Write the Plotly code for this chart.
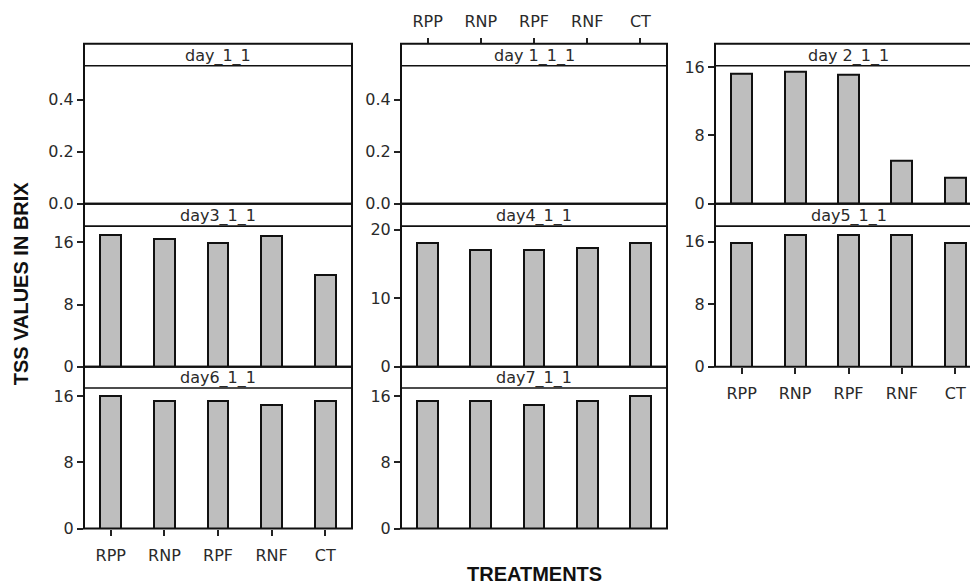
import plotly.graph_objects as go

# ---------------- data ----------------
treatments = ["RPP", "RNP", "RPF", "RNF", "CT"]
panel_labels = ["day_1_1", "day 1_1_1", "day 2_1_1",
                "day3_1_1", "day4_1_1", "day5_1_1",
                "day6_1_1", "day7_1_1"]
day_1_1 = []
day_1_1_1 = []
day_2_1_1 = [15.2, 15.4, 15.1, 5.1, 3.0]
day_3_1_1 = [17.0, 16.4, 15.9, 16.8, 11.8]
day_4_1_1 = [18.0, 17.0, 17.0, 17.3, 18.0]
day_5_1_1 = [15.85, 16.9, 16.9, 16.9, 15.85]
day_6_1_1 = [16.0, 15.45, 15.45, 15.0, 15.45]
day_7_1_1 = [15.45, 15.45, 15.0, 15.45, 16.0]
panel_values = [day_1_1, day_1_1_1, day_2_1_1, day_3_1_1, day_4_1_1,
                day_5_1_1, day_6_1_1, day_7_1_1]

ticks_empty = [0.0, 0.2, 0.4]
ticks_16 = [0, 8, 16]
ticks_20 = [0, 10, 20]
panel_ticks = [ticks_empty, ticks_empty, ticks_16, ticks_16, ticks_20,
               ticks_16, ticks_16, ticks_16]
panel_ymax = [0.531, 0.531, 16.15, 18.1, 20.5, 18.0, 17.0, 17.0]

y_title = "TSS VALUES IN BRIX"
x_title = "TREATMENTS"

# ---------------- layout geometry (pixels) ----------------
W, H = 970, 587
cols = [(84, 352), (401, 667), (715, 982)]
# (strip top, strip bottom, plot bottom)
rows = [(37, 59.5, 202), (202, 225, 370), (370, 392, 537)]
grid = [(0, 0), (0, 1), (0, 2), (1, 0), (1, 1), (1, 2), (2, 0), (2, 1)]
# x-axis label placement: panel index -> 'bottom' / 'top'
xlab = {6: "bottom", 1: "top", 5: "bottom"}

TICKFONT = dict(family="DejaVu Sans", size=16, color="#2a2a2a")
BAR_FILL = "#BEBEBE"
EDGE = "#111111"


def px_x(v):
    return v / W


def px_y(v):
    return 1 - v / H


fig = go.Figure()
shapes = []
annotations = []

for i, (label, vals) in enumerate(zip(panel_labels, panel_values)):
    r, c = grid[i]
    x0, x1 = cols[c]
    st, sb, pb = rows[r]
    n = i + 1
    xa = "x" if n == 1 else f"x{n}"
    ya = "y" if n == 1 else f"y{n}"

    fig.add_trace(go.Bar(
        x=treatments[:len(vals)], y=vals,
        xaxis=xa, yaxis=ya, width=0.39,
        marker=dict(color=BAR_FILL, line=dict(color=EDGE, width=2)),
        showlegend=False, hoverinfo="x+y",
    ))

    full_w = x1 - x0
    vis_x1 = min(x1, W)
    xmax = -0.5 + (vis_x1 - x0) / full_w * len(treatments)

    xaxis = dict(
        domain=[px_x(x0), px_x(vis_x1)],
        type="category", categoryorder="array", categoryarray=treatments,
        range=[-0.5, xmax],
        showgrid=False, zeroline=False, showline=False,
        tickfont=TICKFONT, fixedrange=True,
    )
    side = xlab.get(i)
    if side is None:
        xaxis.update(showticklabels=False, ticks="", anchor=ya)
    elif side == "bottom":
        xaxis.update(showticklabels=True, ticks="outside", ticklen=6,
                     tickwidth=1.5, tickcolor="#222", anchor=ya,
                     ticklabelstandoff=6)
    else:
        xaxis.update(showticklabels=True, ticks="outside", ticklen=6,
                     tickwidth=1.5, tickcolor="#222", anchor="free",
                     side="top", position=px_y(st), ticklabelstandoff=4)

    tv = panel_ticks[i]
    yaxis = dict(
        domain=[px_y(pb), px_y(sb)],
        range=[0, panel_ymax[i]],
        tickmode="array", tickvals=tv,
        ticktext=[f"{t:.1f}" if isinstance(t, float) else str(t) for t in tv],
        ticks="outside", ticklen=6, tickwidth=1.5, tickcolor="#222",
        showgrid=False, zeroline=False, showline=False,
        tickfont=TICKFONT, anchor=xa, fixedrange=True,
    )
    fig.update_layout({("xaxis" if n == 1 else f"xaxis{n}"): xaxis,
                       ("yaxis" if n == 1 else f"yaxis{n}"): yaxis})

    # panel frame (plot + strip)
    shapes.append(dict(type="rect", xref="paper", yref="paper",
                       x0=px_x(x0), x1=px_x(x1), y0=px_y(pb), y1=px_y(st),
                       line=dict(color=EDGE, width=2), layer="above"))
    shapes.append(dict(type="line", xref="paper", yref="paper",
                       x0=px_x(x0), x1=px_x(x1), y0=px_y(sb), y1=px_y(sb),
                       line=dict(color=EDGE, width=1.6), layer="above"))
    annotations.append(dict(
        text=label, xref="paper", yref="paper",
        x=px_x((x0 + x1) / 2), y=px_y((st + sb) / 2 + 1),
        xanchor="center", yanchor="middle", showarrow=False,
        font=dict(family="DejaVu Sans", size=16, color="#2a2a2a"),
    ))

annotations.append(dict(
    text=f"<b>{y_title}</b>", xref="paper", yref="paper",
    x=px_x(21), y=px_y(284), textangle=-90,
    xanchor="center", yanchor="middle", showarrow=False,
    font=dict(family="Liberation Sans", size=20, color="#111"),
))
annotations.append(dict(
    text=f"<b>{x_title}</b>", xref="paper", yref="paper",
    x=px_x(534), y=px_y(584),
    xanchor="center", yanchor="middle", showarrow=False,
    font=dict(family="Liberation Sans", size=20, color="#111"),
))

fig.update_layout(
    width=W, height=H,
    margin=dict(l=0, r=0, t=0, b=0),
    paper_bgcolor="white", plot_bgcolor="white",
    shapes=shapes, annotations=annotations,
    showlegend=False, bargap=0,
)

fig.write_html("out.html", config={"displayModeBar": False})
